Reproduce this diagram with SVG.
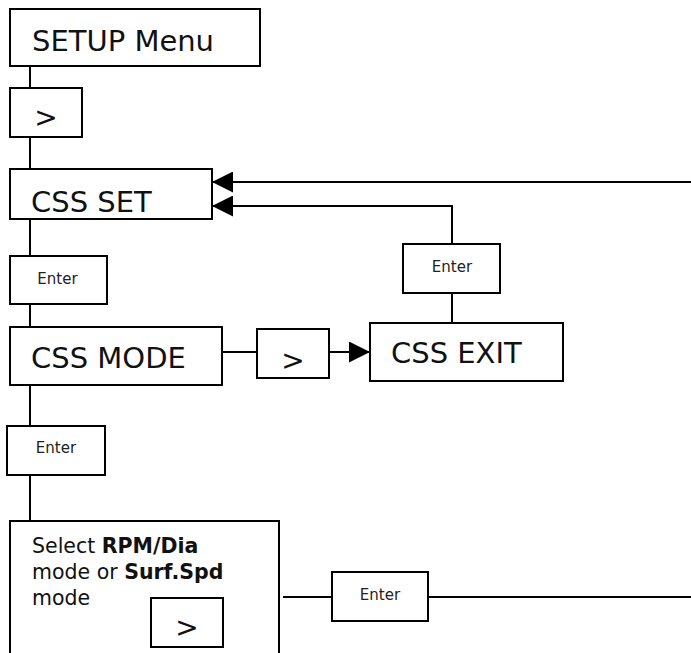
<svg xmlns="http://www.w3.org/2000/svg" width="691" height="653" viewBox="0 0 691 653">
<defs>
<marker id="arr" markerWidth="21" markerHeight="21" refX="21" refY="10.5" orient="auto" markerUnits="userSpaceOnUse">
<path d="M0,0 L21,10.5 L0,21 Z" fill="#000"/>
</marker>
<style>
.box{fill:#fff;stroke:#000;stroke-width:2}
.ln{fill:none;stroke:#000;stroke-width:2}
.big{font-family:"DejaVu Sans",Verdana,sans-serif;font-size:29px;fill:#111}
.gt{font-family:"DejaVu Sans",Verdana,sans-serif;font-size:28px;fill:#111;text-anchor:middle}
.sm{font-family:"DejaVu Sans",Verdana,sans-serif;font-size:15px;fill:#222;text-anchor:middle}
.md{font-family:"DejaVu Sans",Verdana,sans-serif;font-size:20.5px;fill:#111}
</style>
</defs>
<rect width="691" height="653" fill="#fff"/>
<g id="connectors">
<path class="ln" d="M30,66 V88"/>
<path class="ln" d="M30,137 V169"/>
<path class="ln" d="M30,219 V256"/>
<path class="ln" d="M30,304 V327"/>
<path class="ln" d="M30,385 V426"/>
<path class="ln" d="M30,475 V521"/>
<path class="ln" d="M691,182 H212" marker-end="url(#arr)"/>
<path class="ln" d="M452,244 V206 H212" marker-end="url(#arr)"/>
<path class="ln" d="M452,293 V323"/>
<path class="ln" d="M222,352 H257"/>
<path class="ln" d="M329,352 H370" marker-end="url(#arr)"/>
<path class="ln" d="M283,597 H332"/>
<path class="ln" d="M428,597 H691"/>
</g>
<g id="setup"><rect class="box" x="10" y="9" width="250" height="57"/><text class="big" x="32" y="51">SETUP Menu</text></g>
<g id="next1"><rect class="box" x="10" y="88" width="72" height="49"/><text class="gt" x="46" y="127">&gt;</text></g>
<g id="cssset"><rect class="box" x="10" y="169" width="202" height="50"/><text class="big" x="31" y="212">CSS SET</text></g>
<g id="enter1"><rect class="box" x="10" y="256" width="97" height="48"/><text class="sm" x="57.5" y="284">Enter</text></g>
<g id="cssmode"><rect class="box" x="10" y="327" width="212" height="58"/><text class="big" x="31" y="368">CSS MODE</text></g>
<g id="next2"><rect class="box" x="257" y="329" width="72" height="49"/><text class="gt" x="293" y="370">&gt;</text></g>
<g id="cssexit"><rect class="box" x="370" y="323" width="193" height="58"/><text class="big" x="391" y="363">CSS EXIT</text></g>
<g id="enter3"><rect class="box" x="403" y="244" width="97" height="49"/><text class="sm" x="452" y="272">Enter</text></g>
<g id="enter2"><rect class="box" x="7" y="426" width="98" height="49"/><text class="sm" x="56" y="453">Enter</text></g>
<g id="select"><rect class="box" x="10" y="521" width="269" height="140"/>
<text class="md" x="32" y="553">Select <tspan font-weight="bold">RPM/Dia</tspan></text>
<text class="md" x="32" y="579">mode or <tspan font-weight="bold">Surf.Spd</tspan></text>
<text class="md" x="32" y="605">mode</text>
</g>
<g id="next3"><rect class="box" x="151" y="598" width="72" height="49"/><text class="gt" x="187" y="637">&gt;</text></g>
<g id="enter4"><rect class="box" x="332" y="572" width="96" height="49"/><text class="sm" x="380" y="600">Enter</text></g>
</svg>
